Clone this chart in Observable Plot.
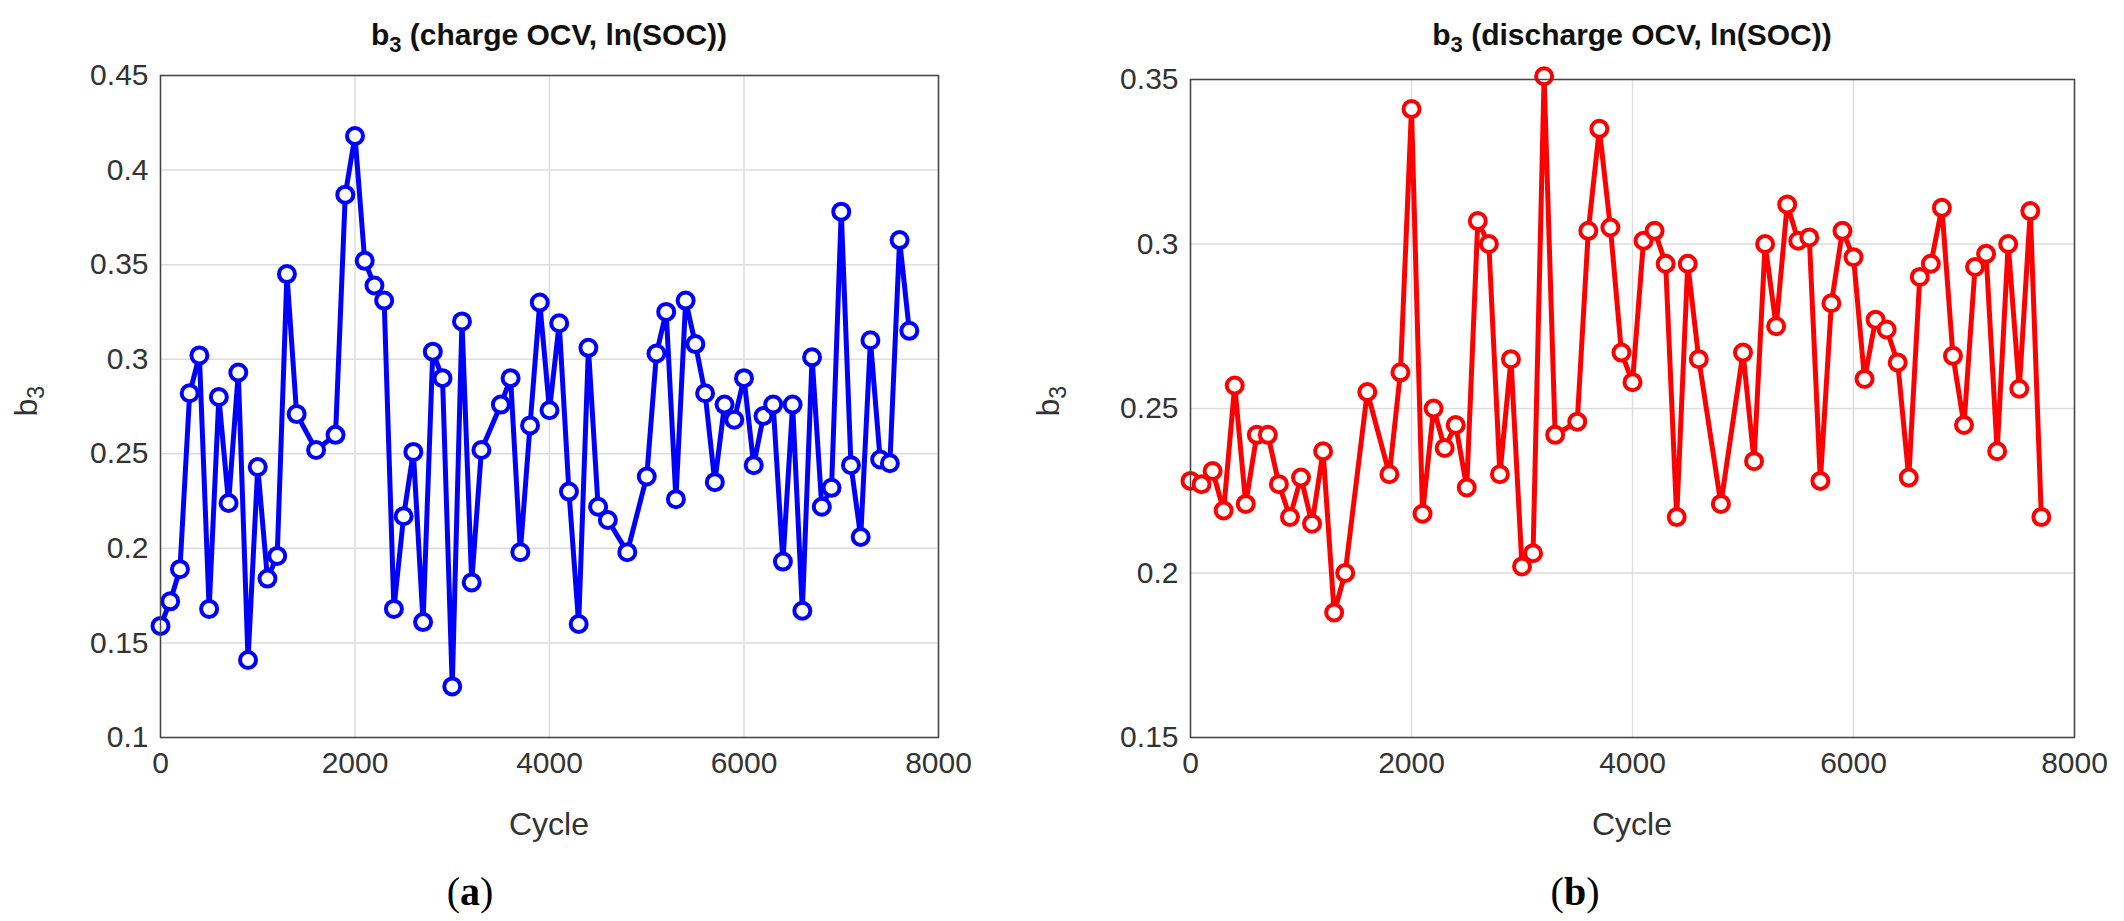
<!DOCTYPE html>
<html lang="en">
<head>
<meta charset="UTF-8">
<script src="https://cdn.jsdelivr.net/npm/d3@7"></script>
<script src="https://cdn.jsdelivr.net/npm/@observablehq/plot@0.6"></script>
<style>
  body { margin: 0; background: #fff; font-family: "Liberation Sans", Arial, sans-serif; }
  #wrap { position: relative; width: 2124px; height: 921px; }
  .abs { position: absolute; }
  .txt { z-index: 2; }
  .title { font-weight: bold; font-size: 30px; color: #111; text-align: center; }
  .xlab { font-size: 32px; color: #333; text-align: center; }
  .ylab { font-size: 32px; color: #333; transform: rotate(-90deg); transform-origin: center; }
  .cap { font-family: "Liberation Serif", "DejaVu Serif", serif; font-size: 40px; text-align: center; }
  svg text { fill: #333; }
</style>
</head>
<body>
<div id="wrap">
  <div id="left" class="abs" style="left:0;top:0"></div>
  <div id="right" class="abs" style="left:1030px;top:0"></div>
  <div class="abs txt title" style="left:160px;width:778px;top:18px">b<sub style="font-size:22px">3</sub> (charge OCV, ln(SOC))</div>
  <div class="abs txt title" style="left:1190px;width:884px;top:18px">b<sub style="font-size:22px">3</sub> (discharge OCV, ln(SOC))</div>
  <div class="abs txt xlab" style="left:160px;width:778px;top:806px">Cycle</div>
  <div class="abs txt xlab" style="left:1190px;width:884px;top:806px">Cycle</div>
  <div class="abs txt ylab" style="left:14px;top:380px">b<sub style="font-size:23px">3</sub></div>
  <div class="abs txt ylab" style="left:1036px;top:380px">b<sub style="font-size:23px">3</sub></div>
  <div class="abs txt cap" style="left:370px;width:200px;top:868px">(<b>a</b>)</div>
  <div class="abs txt cap" style="left:1475px;width:200px;top:868px">(<b>b</b>)</div>
</div>
<script>
const chargeCycle = [0,100,200,300,400,500,600,700,800,900,1000,1100,1200,1300,1400,1600,1800,1900,2000,2100,2200,2300,2400,2500,2600,2700,2800,2900,3000,3100,3200,3300,3500,3600,3700,3800,3900,4000,4100,4200,4300,4400,4500,4600,4800,5000,5100,5200,5300,5400,5500,5600,5700,5800,5900,6000,6100,6200,6300,6400,6500,6600,6700,6800,6900,7000,7100,7200,7300,7400,7500,7600,7700];
const chargeB3 = [0.159,0.172,0.189,0.282,0.302,0.168,0.280,0.224,0.293,0.141,0.243,0.184,0.196,0.345,0.271,0.252,0.260,0.387,0.418,0.352,0.339,0.331,0.168,0.217,0.251,0.161,0.304,0.290,0.127,0.320,0.182,0.252,0.276,0.290,0.198,0.265,0.330,0.273,0.319,0.230,0.160,0.306,0.222,0.215,0.198,0.238,0.303,0.325,0.226,0.331,0.308,0.282,0.235,0.276,0.268,0.290,0.244,0.270,0.276,0.193,0.276,0.167,0.301,0.222,0.232,0.378,0.244,0.206,0.310,0.247,0.245,0.363,0.315];

const dischargeCycle = [0,100,200,300,400,500,600,700,800,900,1000,1100,1200,1300,1400,1600,1800,1900,2000,2100,2200,2300,2400,2500,2600,2700,2800,2900,3000,3100,3200,3300,3500,3600,3700,3800,3900,4000,4100,4200,4300,4400,4500,4600,4800,5000,5100,5200,5300,5400,5500,5600,5700,5800,5900,6000,6100,6200,6300,6400,6500,6600,6700,6800,6900,7000,7100,7200,7300,7400,7500,7600,7700];
const dischargeB3 = [0.228,0.227,0.231,0.219,0.257,0.221,0.242,0.242,0.227,0.217,0.229,0.215,0.237,0.188,0.200,0.255,0.230,0.261,0.341,0.218,0.250,0.238,0.245,0.226,0.307,0.300,0.230,0.265,0.202,0.206,0.351,0.242,0.246,0.304,0.335,0.305,0.267,0.258,0.301,0.304,0.294,0.217,0.294,0.265,0.221,0.267,0.234,0.300,0.275,0.312,0.301,0.302,0.228,0.282,0.304,0.296,0.259,0.277,0.274,0.264,0.229,0.290,0.294,0.311,0.266,0.245,0.293,0.297,0.237,0.300,0.256,0.310,0.217];

const xTicks = [0, 2000, 4000, 6000, 8000];
const yFmt = d => String(+d.toFixed(2));

function panel(cycles, values, color, yDomain, yTicks, width, marginLeft, marginRight, marginTop) {
  const data = cycles.map((c, i) => ({c, v: values[i]}));
  return Plot.plot({
    width, height: 800,
    marginLeft, marginRight, marginTop, marginBottom: 63,
    style: {fontFamily: "Liberation Sans, Arial, sans-serif", fontSize: "30px", background: "transparent"},
    x: {domain: [0, 8000], label: null},
    y: {domain: yDomain, label: null},
    marks: [
      Plot.gridX(xTicks, {stroke: "#ddd", strokeOpacity: 1, strokeWidth: 1.5}),
      Plot.gridY(yTicks, {stroke: "#ddd", strokeOpacity: 1, strokeWidth: 1.5}),
      Plot.axisX({ticks: xTicks, tickSize: 0, tickPadding: 14, fontSize: 30, tickFormat: d3.format("d")}),
      Plot.axisY({ticks: yTicks, tickSize: 0, tickPadding: 12, fontSize: 30, tickFormat: yFmt}),
      Plot.line(data, {x: "c", y: "v", stroke: color, strokeWidth: 5}),
      Plot.dot(data, {x: "c", y: "v", r: 8, stroke: color, strokeWidth: 4, fill: "white"}),
      Plot.frame({stroke: "#444", strokeWidth: 1.5})
    ]
  });
}

document.getElementById("left").append(
  panel(chargeCycle, chargeB3, "#0000ff", [0.1, 0.45], d3.range(0.1, 0.451, 0.05), 1000, 160, 62, 75)
);
document.getElementById("right").append(
  panel(dischargeCycle, dischargeB3, "#ff0000", [0.15, 0.35], d3.range(0.15, 0.351, 0.05), 1094, 160, 50, 79)
);
</script>
</body>
</html>
